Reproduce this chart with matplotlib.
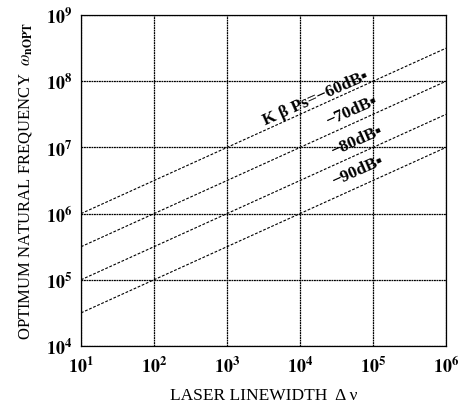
import numpy as np
import matplotlib.pyplot as plt

plt.rcParams['font.family'] = ['Liberation Serif', 'DejaVu Sans']
plt.rcParams['mathtext.fontset'] = 'stix'

# Optimum natural frequency vs laser linewidth, one line per K*beta*Ps
linewidth = [1e1, 1e6]
omega_60 = [1e6, 3.16e8]
omega_70 = [3.16e5, 1e8]
omega_80 = [1e5, 3.16e7]
omega_90 = [3.16e4, 1e7]

curve_labels = ['K β Ps=−60dB▪', '−70dB▪', '−80dB▪', '−90dB▪']
label_x = [1.66e4, 5.1e4, 6.0e4, 6.2e4]
label_y = [5.6e7, 3.6e7, 1.3e7, 4.6e6]

x_ticks = [1e1, 1e2, 1e3, 1e4, 1e5, 1e6]
x_tick_labels = ['$\\mathbf{10^1}$', '$\\mathbf{10^2}$', '$\\mathbf{10^3}$',
                 '$\\mathbf{10^4}$', '$\\mathbf{10^5}$', '$\\mathbf{10^6}$']
y_ticks = [1e4, 1e5, 1e6, 1e7, 1e8, 1e9]
y_tick_labels = ['$\\mathbf{10^4}$', '$\\mathbf{10^5}$', '$\\mathbf{10^6}$',
                 '$\\mathbf{10^7}$', '$\\mathbf{10^8}$', '$\\mathbf{10^9}$']

fig = plt.figure(figsize=(4.63, 4.14), dpi=100)
ax = fig.add_axes([0.175, 0.162, 0.788, 0.799])

for omega in [omega_60, omega_70, omega_80, omega_90]:
    ax.plot(linewidth, omega, color='black', lw=0.8, linestyle=(0, (2.5, 1.5)))

for txt, lx, ly in zip(curve_labels, label_x, label_y):
    ax.text(lx, ly, txt, fontsize=12.5, rotation=24, ha='center', va='center',
            rotation_mode='anchor', fontweight='bold')

ax.set_xscale('log')
ax.set_yscale('log')
ax.set_xlim(1e1, 1e6)
ax.set_ylim(1e4, 1e9)
ax.set_xticks(x_ticks)
ax.set_xticklabels(x_tick_labels)
ax.set_yticks(y_ticks)
ax.set_yticklabels(y_tick_labels)
ax.minorticks_off()
ax.tick_params(axis='x', length=0, labelsize=13, pad=7)
ax.tick_params(axis='y', length=0, labelsize=13, pad=6)

ax.grid(True, color='black', lw=0.9, linestyle=(0, (1.5, 0.5)))
for s in ax.spines.values():
    s.set_linewidth(0.9)

ax.set_xlabel('LASER LINEWIDTH  Δ ν', fontsize=12.5, labelpad=8)
ax.set_ylabel(r'OPTIMUM NATURAL FREQUENCY  $\omega_{\mathbf{nOPT}}$', fontsize=12, labelpad=9)

fig.savefig('out.png', dpi=100)
